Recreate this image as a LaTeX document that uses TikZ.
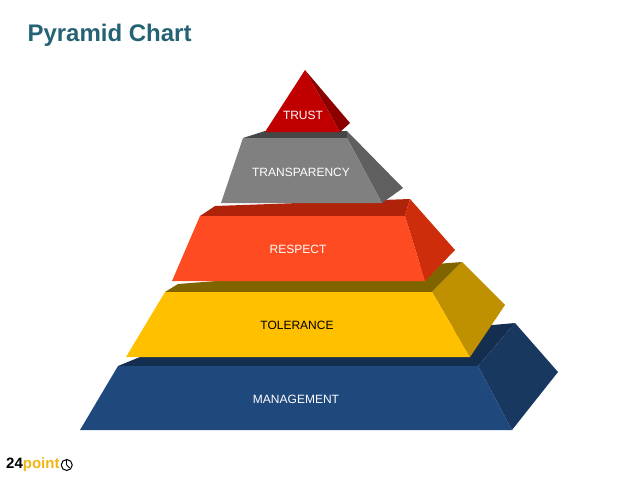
\documentclass[tikz,border=0pt]{standalone}
\usepackage{fontspec}
\setmainfont{Liberation Sans}
\usetikzlibrary{positioning}
\definecolor{titleteal}{RGB}{36,98,116}
\definecolor{mgmtfront}{RGB}{31,73,125}
\definecolor{mgmtside}{RGB}{24,56,96}
\definecolor{mgmttop}{RGB}{20,46,80}
\definecolor{tolfront}{RGB}{255,192,0}
\definecolor{tolside}{RGB}{191,144,0}
\definecolor{toltop}{RGB}{128,100,0}
\definecolor{respfront}{RGB}{255,75,33}
\definecolor{respside}{RGB}{205,45,10}
\definecolor{resptop}{RGB}{175,35,10}
\definecolor{transfront}{RGB}{128,128,128}
\definecolor{transside}{RGB}{95,95,95}
\definecolor{transtop}{RGB}{70,70,70}
\definecolor{trustfront}{RGB}{192,0,0}
\definecolor{trustside}{RGB}{140,0,0}
\definecolor{logoyellow}{RGB}{240,180,20}

\begin{document}
\begin{tikzpicture}[%
        x=1pt, y=-1pt,
        tierlabel/.style={
            font=\fontsize{12}{14}\selectfont,
            text=white,
        },
    ]
    \useasboundingbox (0,0) rectangle (638,479);

    % title
    \node[anchor=west, text=titleteal, font=\fontsize{24}{28}\selectfont\bfseries] (title) at (24,35) {Pyramid Chart};

    % management
    \fill[mgmttop] (140,357) -- (515,323) -- (478,366) -- (118,366) -- cycle;
    \fill[mgmtside] (478,366) -- (515,323) -- (558,372) -- (512,430) -- cycle;
    \fill[mgmtfront] (118,366) -- (478,366) -- (512,430) -- (80,430) -- cycle;
    \node[tierlabel] (management) at (296,399) {MANAGEMENT};

    % tolerance
    \fill[toltop] (178,284) -- (462,262) -- (432,292) -- (165,292) -- cycle;
    \fill[tolside] (432,292) -- (462,262) -- (505,305) -- (470,357) -- cycle;
    \fill[tolfront] (165,292) -- (432,292) -- (470,357) -- (126,357) -- cycle;
    \node[tierlabel, text=black] (tolerance) at (297,325) {TOLERANCE};

    % respect
    \fill[resptop] (215,206) -- (410,199) -- (405,216) -- (200,216) -- cycle;
    \fill[respside] (405,216) -- (410,199) -- (455,250) -- (425,281) -- cycle;
    \fill[respfront] (200,216) -- (405,216) -- (425,281) -- (172,281) -- cycle;
    \node[tierlabel] (respect) at (298,249) {RESPECT};

    % transparency
    \fill[transtop] (265,131) -- (347,131) -- (347,138) -- (243,138) -- cycle;
    \fill[transside] (347,138) -- (347,131) -- (403,188) -- (382,203) -- cycle;
    \fill[transfront] (243,138) -- (347,138) -- (382,203) -- (221,203) -- cycle;
    \node[tierlabel] (transparency) at (301,172) {TRANSPARENCY};

    % trust
    \fill[trustside] (305,70) -- (350,123) -- (340,132) -- cycle;
    \fill[trustfront] (305,70) -- (340,132) -- (265,132) -- cycle;
    \node[tierlabel] (trust) at (303,115) {TRUST};

    % logo
    \node[anchor=west, inner sep=0pt, font=\fontsize{15}{17}\selectfont\bfseries] (logo) at (6,465)
        {24\textcolor{logoyellow}{point}};
    \node[circle, draw=black, line width=1pt, minimum size=11pt, inner sep=0pt, right=1pt of logo] (clock) {};
    \draw[line width=0.9pt] (clock.center) -- (clock.north);
    \draw[line width=0.9pt] (clock.center) -- ++(3,3);
\end{tikzpicture}
\end{document}
